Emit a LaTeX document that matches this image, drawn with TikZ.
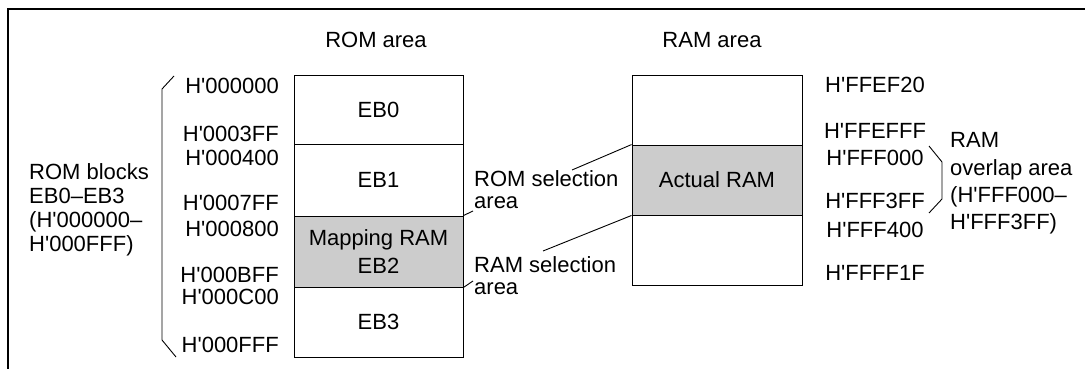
\documentclass[tikz,border=0pt]{standalone}
\usepackage{fontspec}
\setmainfont{Liberation Sans}[Ligatures=TeXOff]
\begin{document}
\begin{tikzpicture}[x=1pt,y=-1pt,
  every node/.style={font=\fontsize{22}{24}\selectfont, inner sep=0pt},
  blk/.style={draw, line width=0.9pt, minimum width=169pt, anchor=center},
  shade/.style={fill=black!20},
  thin/.style={line width=0.9pt},
  frame/.style={line width=1.3pt}]
\useasboundingbox (0,0) rectangle (1085,369);
% frame
\draw[frame] (8,369) -- (8,9) -- (1085,9);
% titles
\node (romt) at (376,40) {ROM area};
\node (ramt) at (712,40) {RAM area};
% ROM blocks
\node[blk, minimum height=69pt] (eb0) at (378.5,109.5) {EB0};
\node[blk, minimum height=72pt] (eb1) at (378.5,180) {EB1};
\node[blk, shade, minimum height=71pt, align=center, font=\fontsize{22}{28}\selectfont] (eb2) at (378.5,251.5) {Mapping RAM\\EB2};
\node[blk, minimum height=70pt] (eb3) at (378.5,322) {EB3};
% RAM blocks
\node[blk, minimum width=170pt, minimum height=70pt] (ram0) at (717,110) {};
\node[blk, shade, minimum width=170pt, minimum height=70pt] (ram1) at (717,180) {Actual RAM};
\node[blk, minimum width=170pt, minimum height=70pt] (ram2) at (717,250) {};
% ROM addresses
\node[anchor=east] (a0) at (279,86) {H'000000};
\node[anchor=east] (a1) at (279,133.5) {H'0003FF};
\node[anchor=east] (a2) at (279,158) {H'000400};
\node[anchor=east] (a3) at (279,202.5) {H'0007FF};
\node[anchor=east] (a4) at (279,228.5) {H'000800};
\node[anchor=east] (a5) at (279,274.5) {H'000BFF};
\node[anchor=east] (a6) at (279,297) {H'000C00};
\node[anchor=east] (a7) at (279,344.5) {H'000FFF};
% left brace
\coordinate (lb1) at (174,76);
\coordinate (lb2) at (162,89);
\coordinate (lb3) at (162,340);
\coordinate (lb4) at (176,357);
\draw[thin] (lb1) -- (lb2) -- (lb3) -- (lb4);
\node[anchor=west, align=left] (romblk) at (29,210) {ROM blocks\\EB0–EB3\\(H'000000–\\H'000FFF)};
% RAM addresses
\node (r0) at (875,84.5) {H'FFEF20};
\node (r1) at (875,131) {H'FFEFFF};
\node (r2) at (875,158) {H'FFF000};
\node (r3) at (875,201) {H'FFF3FF};
\node (r4) at (875,230) {H'FFF400};
\node (r5) at (875,273) {H'FFFF1F};
% right brace
\coordinate (rb1) at (929,146);
\coordinate (rb2) at (942,162);
\coordinate (rb3) at (942,199);
\coordinate (rb4) at (929,213);
\draw[thin] (rb1) -- (rb2) -- (rb3) -- (rb4);
\node[anchor=west, align=left, font=\fontsize{22}{27.3}\selectfont] (ovl) at (950,183.5) {RAM\\overlap area\\(H'FFF000–\\H'FFF3FF)};
% selection labels
\node[anchor=west, align=left, font=\fontsize{22}{22}\selectfont] (romsel) at (474,190) {ROM selection\\area};
\node[anchor=west, align=left, font=\fontsize{22}{22}\selectfont] (ramsel) at (474,276) {RAM selection\\area};
% leaders
\coordinate (l1) at (572,170);
\coordinate (l2) at (543,251);
\coordinate (t1) at (473,211);
\coordinate (t2) at (473,281);
\draw[thin] (ram1.north west) -- (l1);
\draw[thin] (ram1.south west) -- (l2);
\draw[thin] (eb2.north east) -- (t1);
\draw[thin] (eb2.south east) -- (t2);
\end{tikzpicture}
\end{document}
